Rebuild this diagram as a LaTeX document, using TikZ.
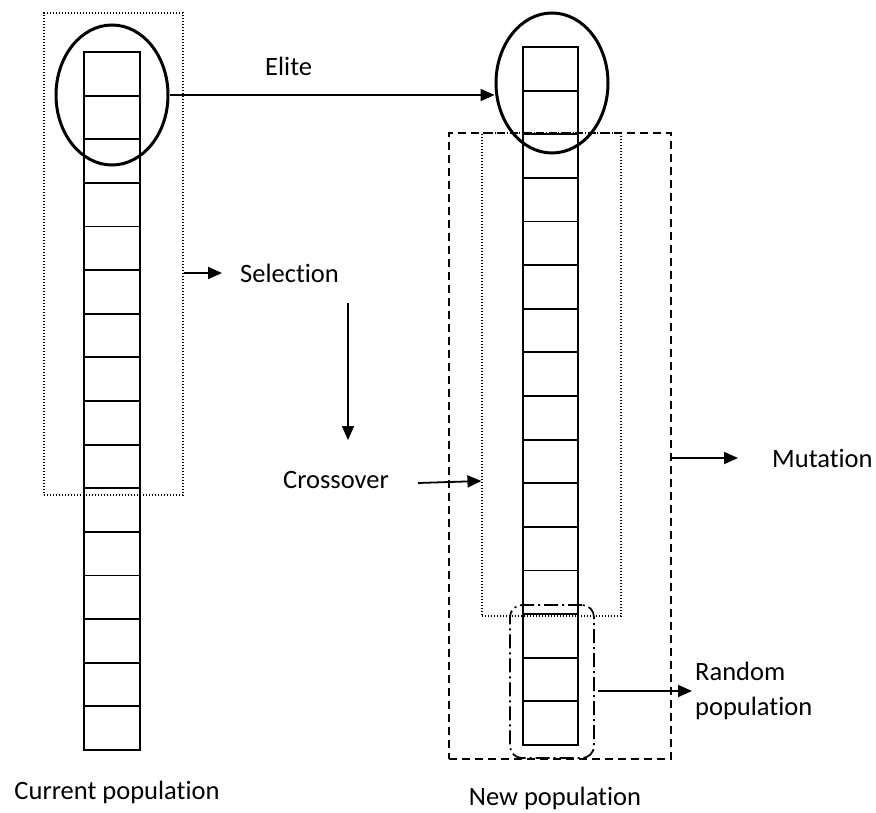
\documentclass[tikz,border=0pt]{standalone}
\usepackage{fontspec}
\setmainfont{Carlito}[RawFeature={-liga}]
\usetikzlibrary{shapes.geometric,arrows.meta}

\begin{document}
\begin{tikzpicture}[x=1pt, y=-1pt,
  every node/.style={font=\fontsize{26.5}{35}\selectfont, inner sep=0pt},
  cell/.style={line width=1.9pt},
  elitering/.style={draw, ellipse, line width=3pt, minimum width=112pt, minimum height=140pt},
  arr/.style={line width=1.8pt, -{Triangle[length=14pt,width=12pt]}},
  dotbox/.style={draw, line width=1.2pt, dash pattern=on 1.2pt off 1.8pt},
  dashbox/.style={draw, line width=1.9pt, dash pattern=on 8pt off 5pt},
  dashdotbox/.style={draw, line width=1.7pt, dash pattern=on 14pt off 4pt on 2pt off 4pt, rounded corners=12pt}]

\useasboundingbox (0,0) rectangle (876,813);

% boxes round the operators
\draw (113.5,254) node[dotbox, minimum width=139pt, minimum height=482pt] (selbox){};
\draw (560,446) node[dashbox, minimum width=222pt, minimum height=626pt] (mutbox){};
\draw (551.5,374.5) node[dotbox, minimum width=139pt, minimum height=483pt] (crossbox){};
\draw (552,681.5) node[dashdotbox, minimum width=84pt, minimum height=153pt] (randbox){};

% current population
\draw[cell] (84,52) rectangle (140,750);
\foreach \k in {1,...,15}
  \draw[cell] (84,52+43.625*\k) -- (140,52+43.625*\k);

% new population
\draw[cell] (523,47) rectangle (578,745);
\foreach \k in {1,...,15}
  \draw[cell] (523,47+43.625*\k) -- (578,47+43.625*\k);

\draw (112,95) node[elitering] (oldelite){};
\draw (552,83) node[elitering] (newelite){};

% labels
\draw (265,66) node[anchor=west] (elite) {Elite};
\draw (240,273) node[anchor=west] (sel) {Selection};
\draw (283,480) node[anchor=west] (cross) {Crossover};
\draw (772,458) node[anchor=west] (mut) {Mutation};
\draw (695,691) node[anchor=west, align=left] (rnd) {Random\\population};
\draw (117,792) node (curpop) {Current population};
\draw (555,798) node (newpop) {New population};

\coordinate (down1) at (348,303);
\coordinate (down2) at (348,440);
\coordinate (crossfrom) at (418,483);

\draw[arr] (oldelite.east) -- (oldelite.east -| newelite.west);
\draw[arr] (selbox.east |- sel.west) -- ([xshift=-18pt]sel.west);
\draw[arr] (down1) -- (down2);
\draw[arr] (crossfrom) -- (crossbox.west |- 0,481);
\draw[arr] (mutbox.east |- mut.west) -- ([xshift=-34pt]mut.west);
\draw[arr] ([xshift=3pt]randbox.east |- rnd.west) -- ([xshift=-3pt]rnd.west);
\end{tikzpicture}
\end{document}
